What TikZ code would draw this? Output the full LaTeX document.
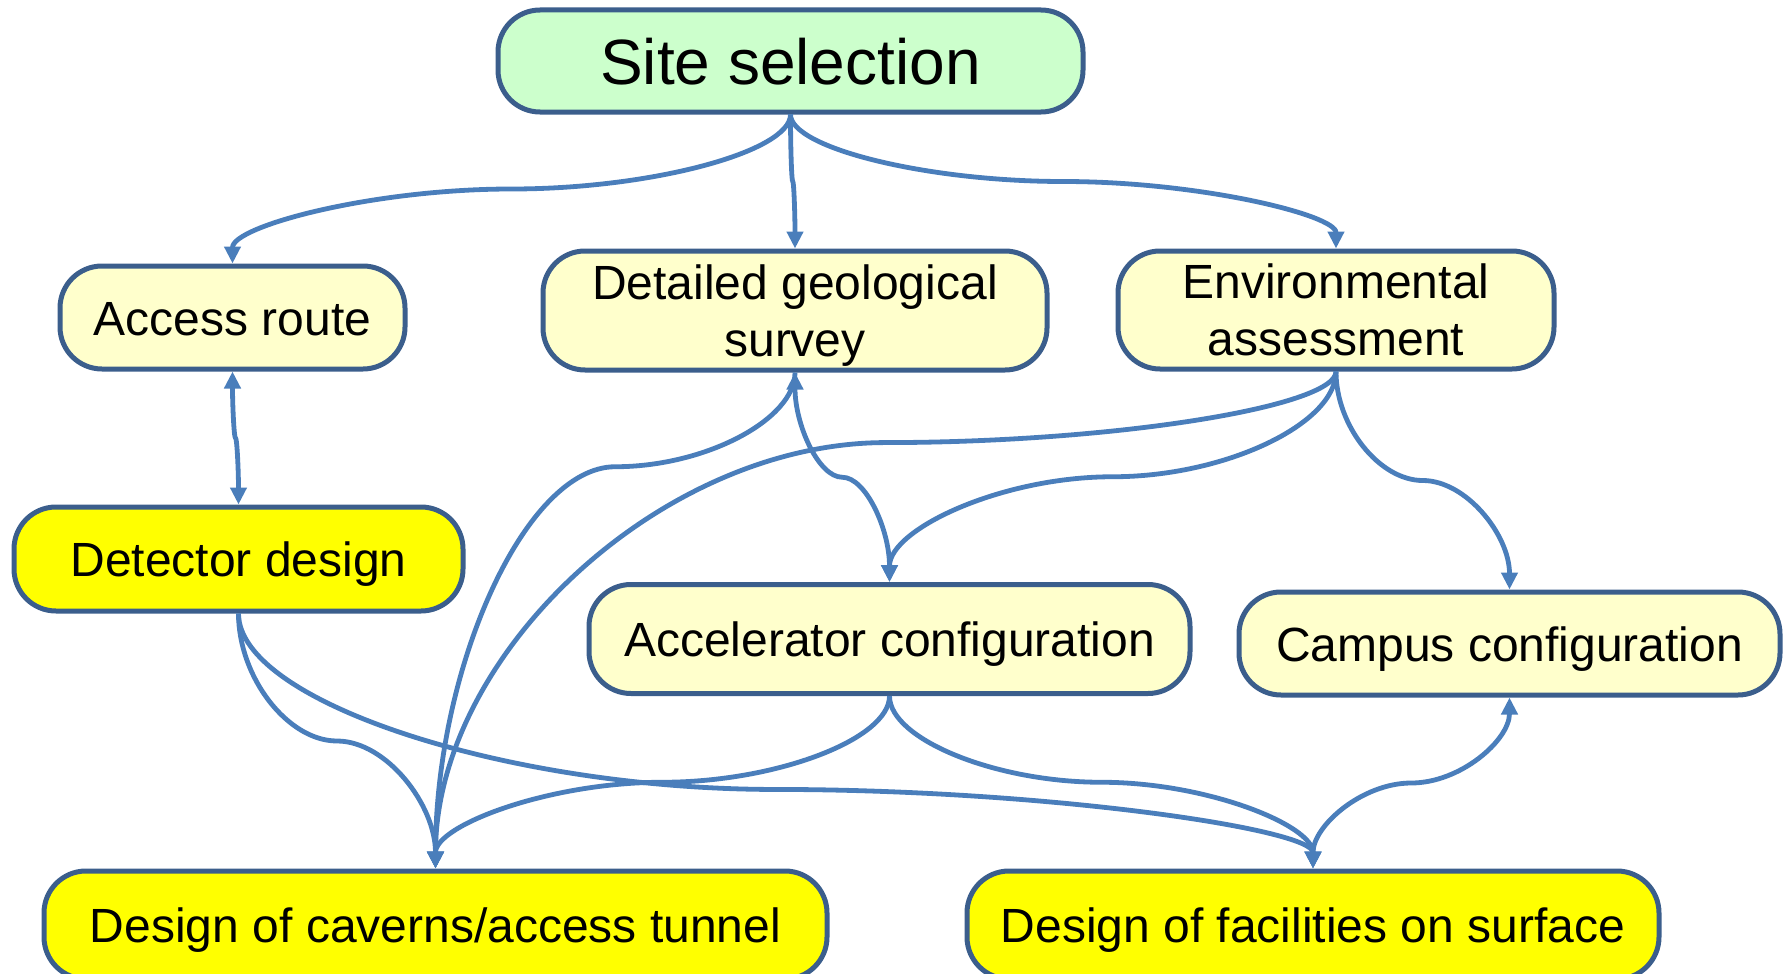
\documentclass[tikz,border=0pt]{standalone}
\usepackage{fontspec}
\setmainfont{Liberation Sans}
\usetikzlibrary{arrows.meta,calc}
\definecolor{boxline}{HTML}{3B5E8C}
\definecolor{paleyellow}{HTML}{FFFFCC}
\definecolor{palegreen}{HTML}{CCFFCC}
\definecolor{brightyellow}{HTML}{FFFF00}
\definecolor{linkblue}{HTML}{4A7EBB}
\tikzset{
  mid frac/.store in=\midfrac, mid frac=0.5,
  % curved elbow connector: leaves and enters vertically,
  % horizontal at a fraction of the vertical distance
  elbow/.style={to path={
    let \p1=(\tikztostart), \p2=(\tikztotarget),
        \n1={\y1+\midfrac*(\y2-\y1)} in
    .. controls (\x1,{(\y1+\n1*1pt)/2}) and ({\x1+(\x2-\x1)/4},{\n1*1pt})
    .. ({(\x1+\x2)/2},{\n1*1pt})
    .. controls ({\x1+3*(\x2-\x1)/4},{\n1*1pt}) and (\x2,{(\n1*1pt+\y2)/2})
    .. (\x2,\y2) \tikztonodes}},
  box/.style={draw=boxline, line width=5pt, rounded corners=42pt,
    inner sep=0pt, align=center, font=\fontsize{48}{57}\selectfont},
  oneline/.style={text height=35pt, text depth=0pt},
  link/.style={draw=linkblue, line width=4.8pt, elbow},
  >={Triangle[length=17pt,width=16pt]}
}
\begin{document}
\begin{tikzpicture}[x=1pt,y=-1pt]
\useasboundingbox (0,0) rectangle (1791,974);

% boxes
\node[box, fill=palegreen, minimum width=585, minimum height=102,
      font=\fontsize{64}{70}\selectfont, text height=47pt, text depth=0pt]
  (site) at (790.5,61) {Site selection};
\node[box, oneline, fill=paleyellow, minimum width=345, minimum height=103]
  (access) at (232.5,317.5) {Access route};
\node[box, fill=paleyellow, minimum width=504, minimum height=119]
  (geo) at (795,310.5) {Detailed geological\\\raisebox{0pt}[\height][0pt]{survey}};
\node[box, fill=paleyellow, minimum width=436, minimum height=118]
  (env) at (1336,310) {Environmental\\assessment};
\node[box, oneline, fill=brightyellow, minimum width=449, minimum height=104]
  (detector) at (238.5,559) {Detector design};
\node[box, oneline, fill=paleyellow, minimum width=601, minimum height=109]
  (accel) at (889.5,639) {Accelerator configuration};
\node[box, oneline, fill=paleyellow, minimum width=541, minimum height=103]
  (campus) at (1509.5,643.5) {Campus configuration};
\node[box, oneline, fill=brightyellow, minimum width=783, minimum height=108]
  (caverns) at (435.5,925) {Design of caverns/access tunnel};
\node[box, oneline, fill=brightyellow, minimum width=692, minimum height=108]
  (surface) at (1313,925) {Design of facilities on surface};

% connectors
\draw[link,->] (site.south) to (access.north);
\draw[link,->] (site.south) to (geo.north);
\draw[link,->] (site.south) to (env.north);
\draw[link,<->] (access.south) to (detector.north);
\draw[link,->,mid frac=0.19] (geo.south) to (caverns.north);
\draw[link,->,mid frac=0.143] (env.south) to (caverns.north);
\draw[link,<->] (geo.south) to (accel.north);
\draw[link,->] (env.south) to (accel.north);
\draw[link,->] (env.south) to (campus.north);
\draw[link,->] (detector.south) to (caverns.north);
\draw[link,->,mid frac=0.69] (detector.south) to (surface.north);
\draw[link,->] (accel.south) to (caverns.north);
\draw[link,->] (accel.south) to (surface.north);
\draw[link,<->] (campus.south) to (surface.north);
\end{tikzpicture}
\end{document}
